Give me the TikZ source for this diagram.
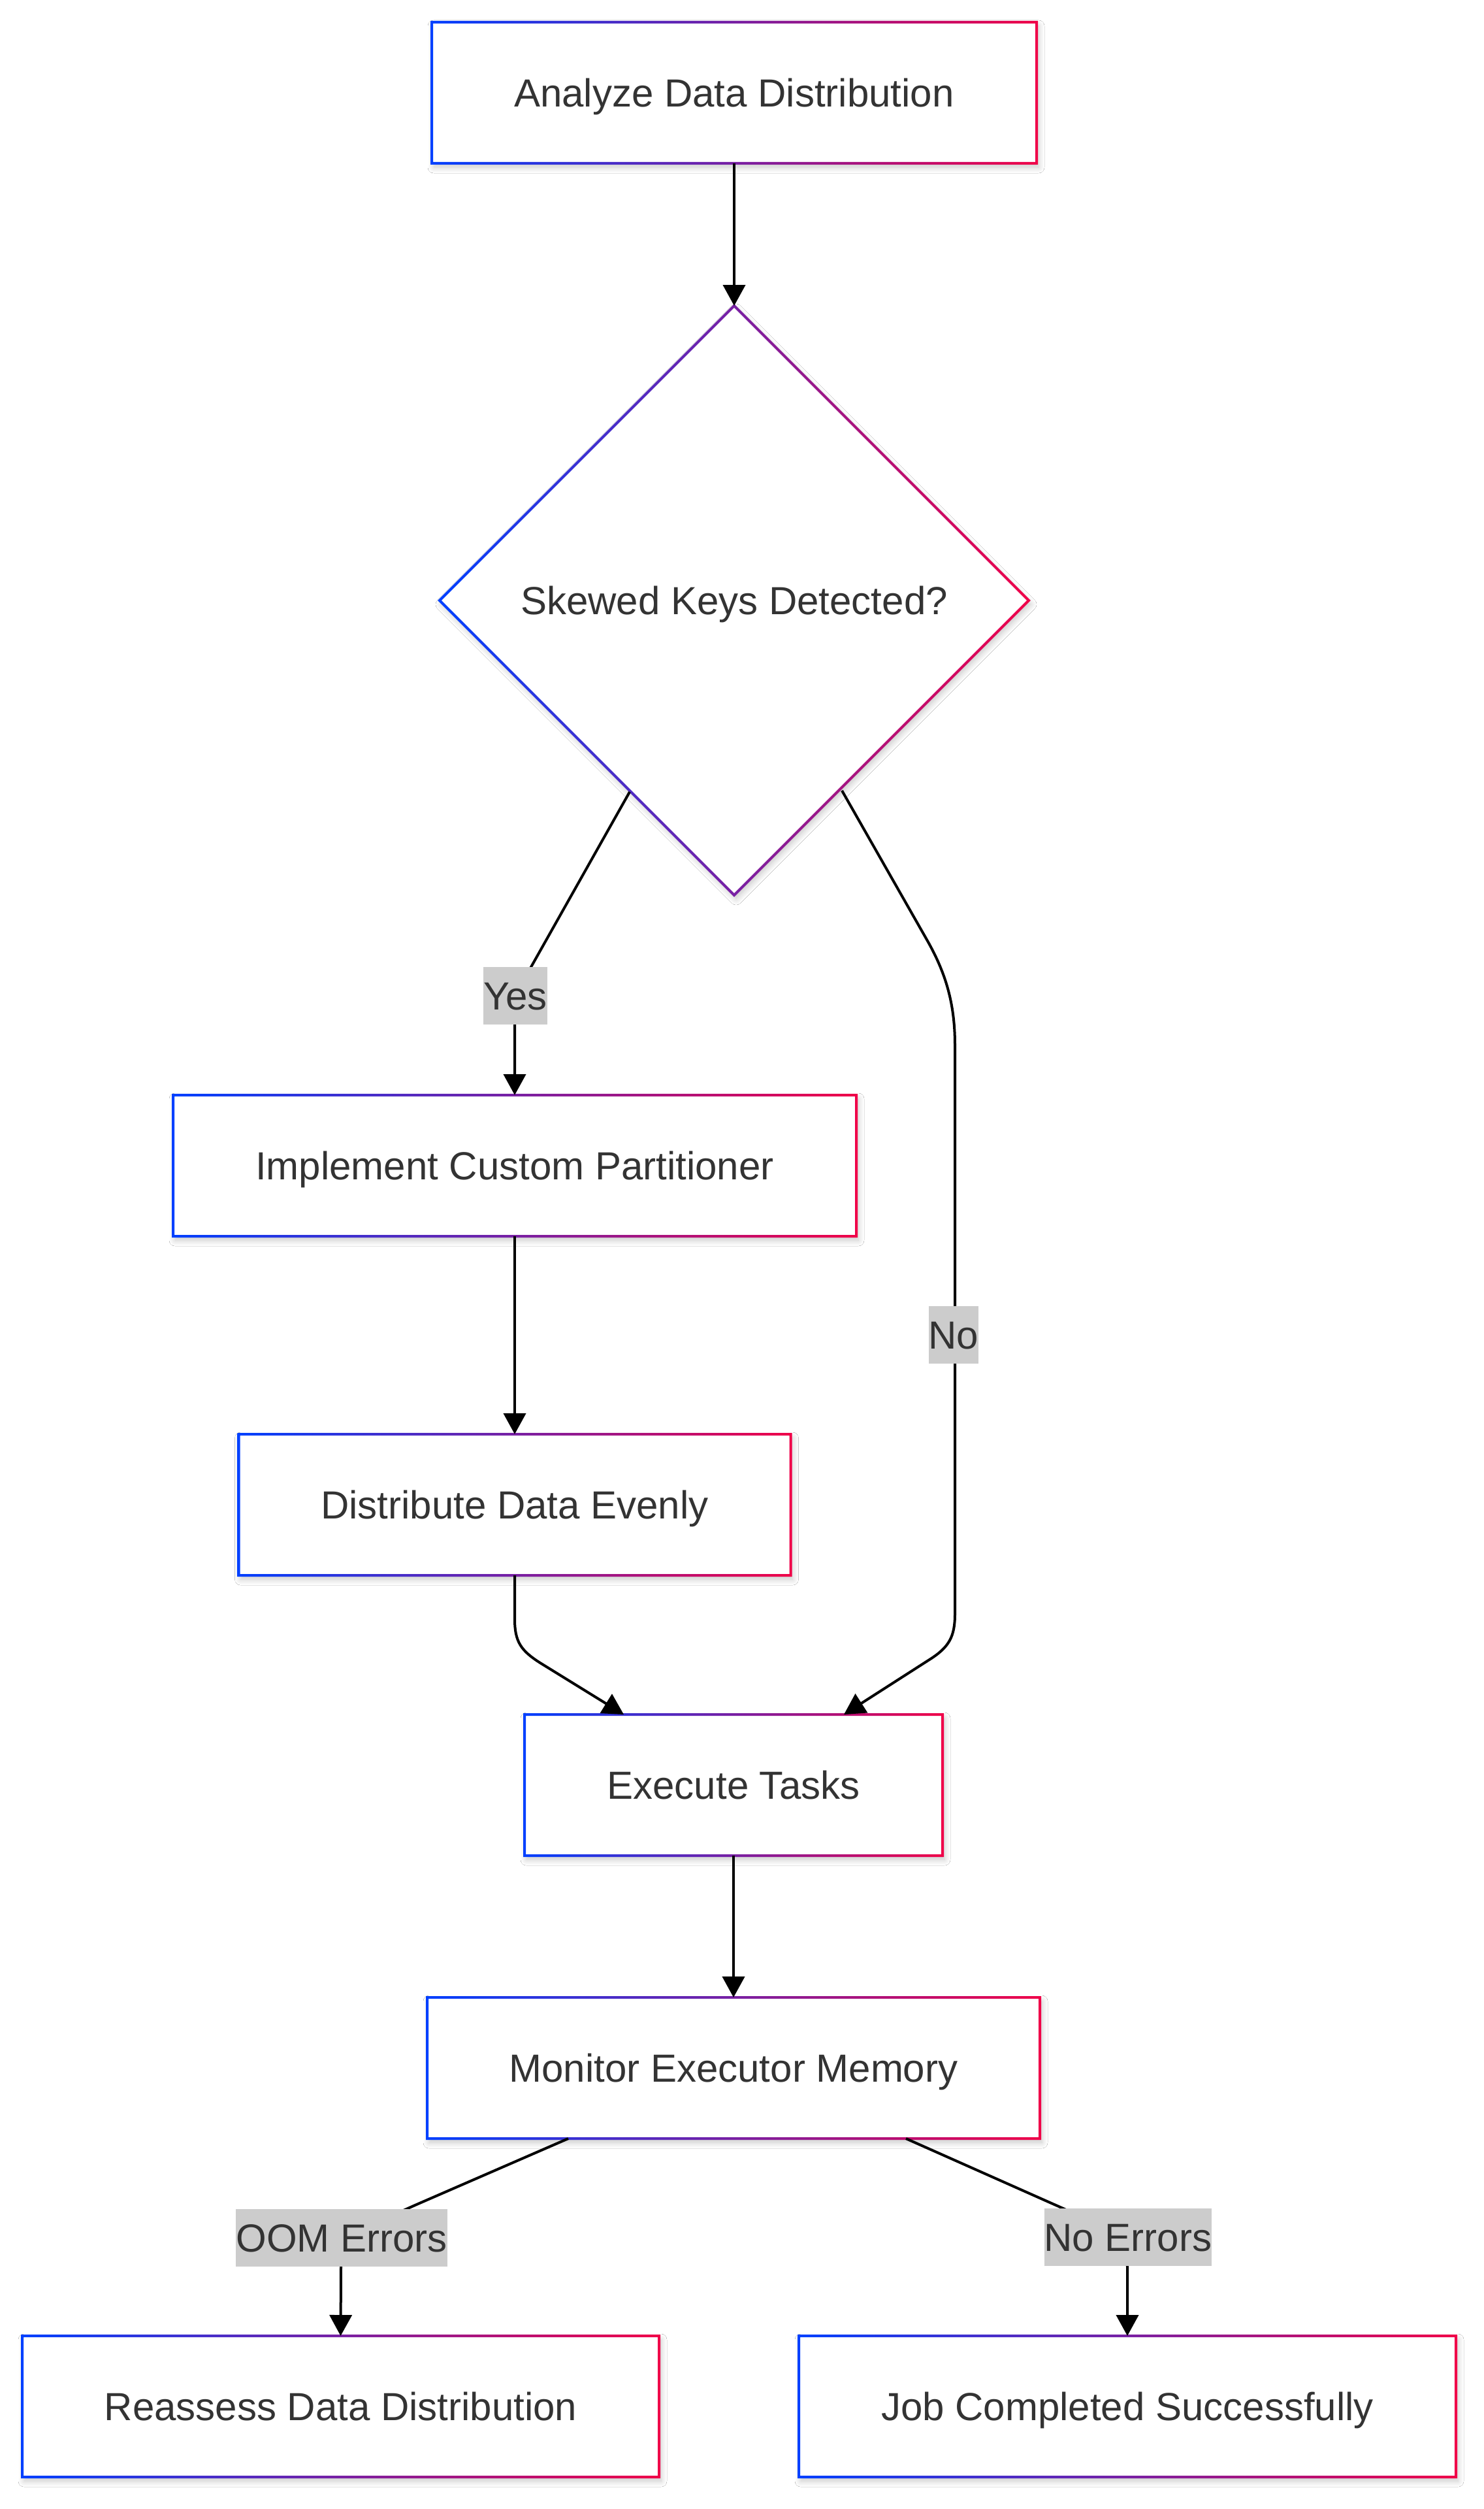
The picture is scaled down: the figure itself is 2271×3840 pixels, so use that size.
\documentclass[tikz,border=0pt]{standalone}
\usepackage{fontspec}
\setmainfont{Liberation Sans}
\usetikzlibrary{shapes.geometric,arrows.meta,shadows.blur}
\definecolor{cb}{RGB}{0,64,255}
\definecolor{cr}{RGB}{240,0,72}
\definecolor{txt}{RGB}{51,51,51}
\definecolor{lbg}{RGB}{204,204,204}
\tikzset{
  shad/.style={blur shadow={shadow xshift=3pt, shadow yshift=-6pt, shadow blur radius=9pt, shadow opacity=22, shadow blur steps=12}},
  tfont/.style={text=txt, font=\fontsize{60}{72}\selectfont, text height=43pt, text depth=0pt},
  fbox/.style={shape=rectangle, fill=white, shad, inner sep=0pt, outer sep=0pt, tfont},
  fdia/.style={shape=diamond, aspect=1, fill=white, shad, inner sep=0pt, outer sep=0pt, tfont, minimum width=902pt, minimum height=902pt},
  elabel/.style={fill=lbg, inner xsep=0pt, inner ysep=0pt, minimum height=88pt, tfont},
  conn/.style={draw=black, line width=4pt, -{Triangle[length=32pt,width=34pt]}},
}
\newcommand\gring[1]{\shade[left color=cb, right color=cr, even odd rule]
  ([xshift=-2pt,yshift=2pt]#1.north west) rectangle ([xshift=2pt,yshift=-2pt]#1.south east)
  ([xshift=2pt,yshift=-2pt]#1.north west) rectangle ([xshift=-2pt,yshift=2pt]#1.south east);}
\begin{document}
\begin{tikzpicture}[x=1pt,y=-1pt]
\useasboundingbox[fill=white] (0,0) rectangle (2271,3840);

% nodes
\node[fbox, minimum width=926pt, minimum height=216pt] (A) at (1124,142) {Analyze Data Distribution};
\gring{A}
\node[fdia] (B) at (1124,919) {Skewed Keys Detected?};
\shade[left color=cb, right color=cr, even odd rule]
  ([xshift=-2.83pt]B.west) -- ([yshift=2.83pt]B.north) -- ([xshift=2.83pt]B.east) -- ([yshift=-2.83pt]B.south) -- cycle
  ([xshift=2.83pt]B.west) -- ([yshift=-2.83pt]B.north) -- ([xshift=-2.83pt]B.east) -- ([yshift=2.83pt]B.south) -- cycle;
\node[fbox, minimum width=1046pt, minimum height=216pt] (C) at (788,1784) {Implement Custom Partitioner};
\gring{C}
\node[fbox, minimum width=845pt, minimum height=216pt] (D) at (788,2303) {Distribute Data Evenly};
\gring{D}
\node[fbox, minimum width=640pt, minimum height=216pt] (E) at (1123,2732) {Execute Tasks};
\gring{E}
\node[fbox, minimum width=938pt, minimum height=216pt] (F) at (1123,3165) {Monitor Executor Memory};
\gring{F}
\node[fbox, minimum width=975pt, minimum height=216pt] (G) at (521.5,3683) {Reassess Data Distribution};
\gring{G}
\node[fbox, minimum width=1006pt, minimum height=216pt] (H) at (1726,3683) {Job Completed Successfully};
\gring{H}

% connectors
\draw[conn] (A.south) -- (B.north);
\draw[conn] ([xshift=-160pt,yshift=-293pt]B.center) -- (813,1480) .. controls (800,1503) and (788,1520) .. (788,1548) -- (C.north);
\draw[conn] ([xshift=165pt,yshift=-291pt]B.center) -- (1420,1440) .. controls (1450,1493) and (1462,1540) .. (1462,1600)
  -- (1462,2470) .. controls (1462,2505) and (1453,2521) .. (1423,2540) -- ([xshift=169pt]E.north);
\draw[conn] (C.south) -- (D.north);
\draw[conn] (D.south) -- (788,2478) .. controls (788,2512) and (797,2526) .. (827,2545) -- ([xshift=-168pt]E.north);
\draw[conn] (E.south) -- (F.north);
\draw[conn] ([xshift=-253pt]F.south) -- (640,3373) .. controls (560,3408) and (522,3430) .. (522,3470) -- (G.north);
\draw[conn] ([xshift=264pt]F.south) -- (1612,3373) .. controls (1692,3408) and (1726,3430) .. (1726,3470) -- (H.north);

% edge labels
\node[elabel] (ly) at (789,1524) {Yes};
\node[elabel] (ln) at (1460,2043) {No};
\node[elabel] (lo) at (523,3425) {OOM Errors};
\node[elabel] (le) at (1727,3424) {No Errors};
\end{tikzpicture}
\end{document}
